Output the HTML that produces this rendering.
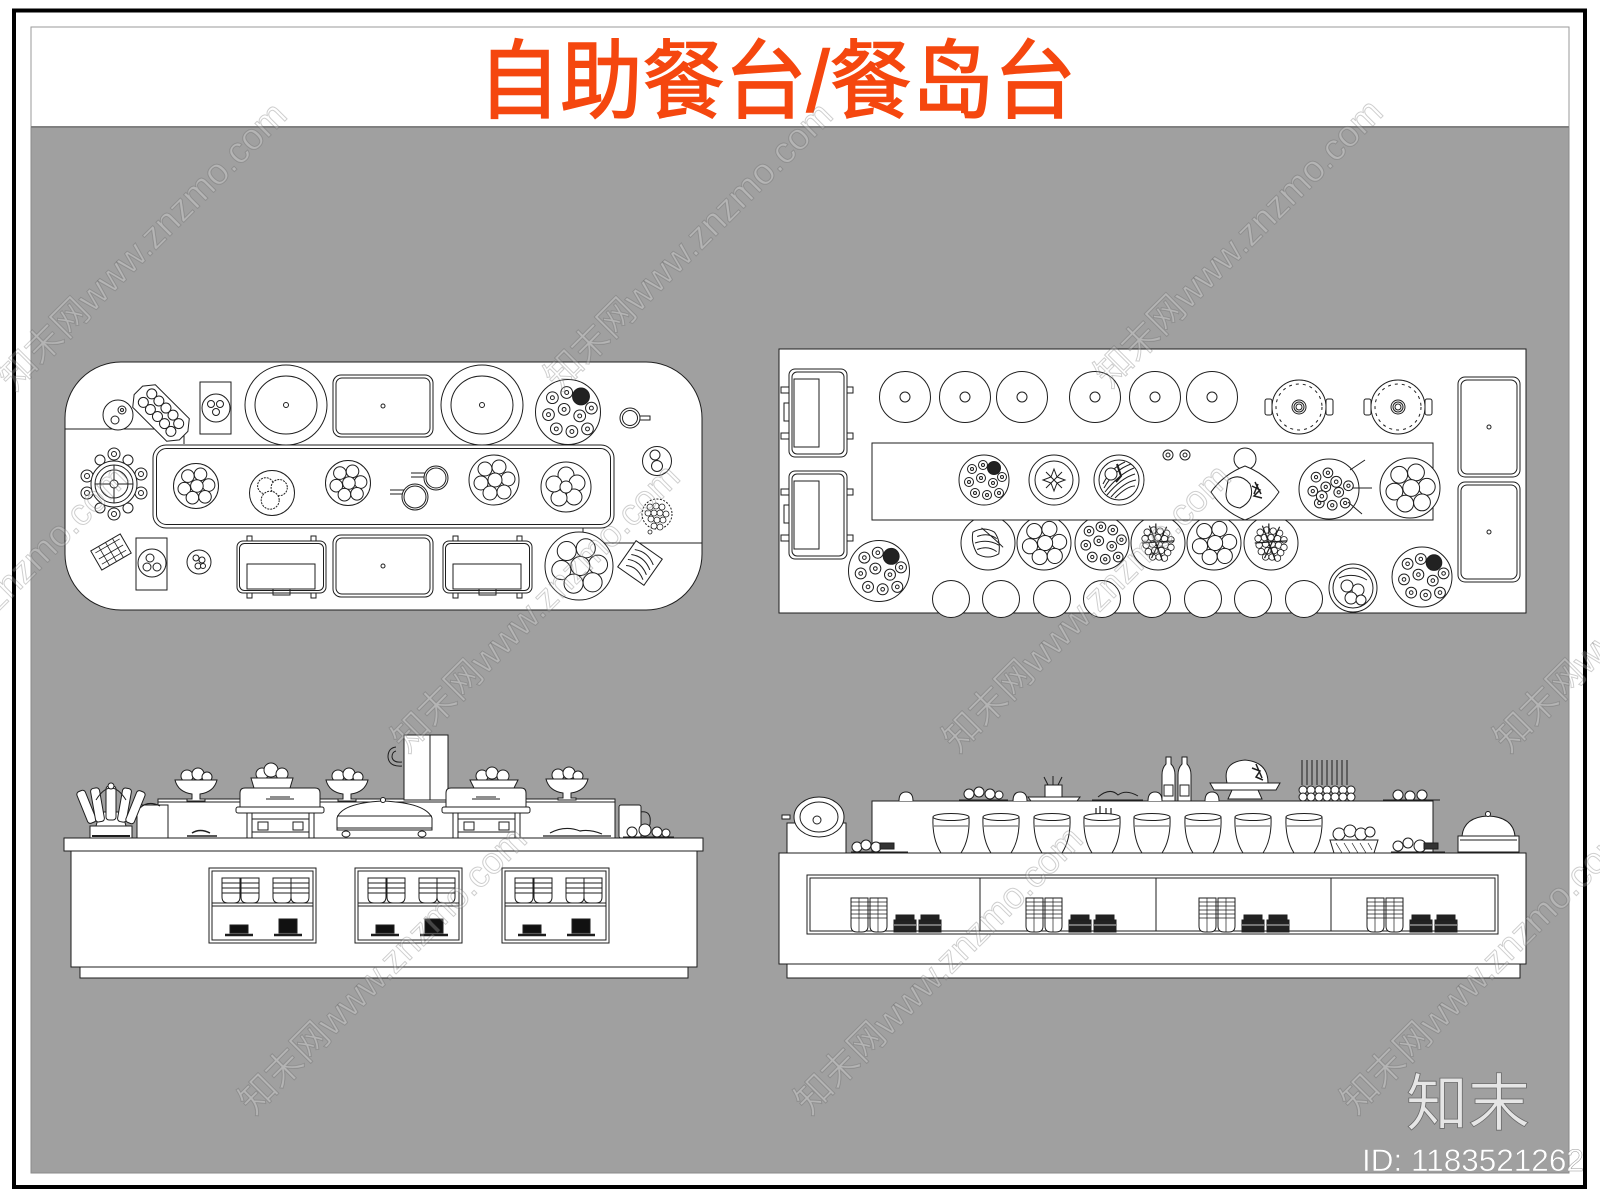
<!DOCTYPE html>
<html><head><meta charset="utf-8"><style>
html,body{margin:0;padding:0;background:#fff;}
svg{display:block}
svg *{vector-effect:non-scaling-stroke}
</style></head><body>
<svg width="1600" height="1200" viewBox="0 0 1600 1200" xmlns="http://www.w3.org/2000/svg">
<defs>
 <g id="rg"><circle r="4.5"/><circle r="1.5"/></g>
 <g id="rgs"><use href="#rg" x="-12" y="-11"/><use href="#rg" x="-1" y="-15"/><use href="#rg" x="-15" y="2"/><use href="#rg" x="-3" y="-2"/><use href="#rg" x="9" y="3"/><use href="#rg" x="-9" y="13"/><use href="#rg" x="3" y="15"/><use href="#rg" x="15" y="13"/><use href="#rg" x="18" y="-3"/></g>
 <g id="fr"><circle r="25"/><circle cx="-9" cy="-11" r="7"/><circle cx="5" cy="-13" r="7"/><circle cx="14" cy="-1" r="7"/><circle cx="1" cy="0" r="7"/><circle cx="-13" cy="3" r="7"/><circle cx="-4" cy="13" r="7"/><circle cx="10" cy="12" r="7"/></g>
 <g id="dn"><circle r="25"/><use href="#rgs"/><circle cx="10" cy="-12" r="6.5" fill="#222"/></g>
 <g id="dl"><circle r="25"/><use href="#rgs"/><use href="#rg" x="10" y="-12"/></g>
 <g id="gr"><circle r="25"/><g stroke-width="0.8"><circle cx="-10" cy="-10" r="3"/><circle cx="-4" cy="-12" r="3"/><circle cx="2" cy="-11" r="3"/><circle cx="8" cy="-9" r="3"/><circle cx="-12" cy="-4" r="3"/><circle cx="-6" cy="-5" r="3"/><circle cx="0" cy="-5" r="3"/><circle cx="6" cy="-4" r="3"/><circle cx="12" cy="-3" r="3"/><circle cx="-11" cy="2" r="3"/><circle cx="-5" cy="1" r="3"/><circle cx="1" cy="1" r="3"/><circle cx="7" cy="2" r="3"/><circle cx="12" cy="4" r="3"/><circle cx="-9" cy="8" r="3"/><circle cx="-3" cy="7" r="3"/><circle cx="3" cy="7" r="3"/><circle cx="9" cy="9" r="3"/><circle cx="-5" cy="13" r="3"/><circle cx="1" cy="13" r="3"/><circle cx="6" cy="14" r="3"/></g><path d="M-8 -16L4 16M8 -15L-6 14M-15 0L15 -2M-2 -18V-8" fill="none" stroke-width="1.2"/></g>
 <g id="lf"><circle r="25"/><path d="M-14 -10Q-4 -16 6 -10Q12 -2 10 10Q0 16 -10 10Q-16 0 -14 -10ZM-10 -6Q0 -10 8 -4M-12 0Q0 -4 10 2M-10 6Q0 2 8 8M-6 -14Q6 -4 14 4" fill="none"/></g>
 <g id="che"><path d="M4 19V5q0-5 5-5h70q5 0 5 5v14z"/><path d="M30 11h28M34 9h20" fill="none"/><rect x="0" y="19" width="88" height="6" rx="2"/><rect x="16" y="31" width="57" height="19"/><rect x="11" y="25" width="5" height="25"/><rect x="73" y="25" width="5" height="25"/><rect x="22" y="34" width="10" height="8"/><rect x="57" y="34" width="10" height="8"/><path d="M16 44H73" fill="none"/></g>
 <g id="chp"><rect x="0" y="3" width="89" height="52" rx="6"/><rect x="2.5" y="5.5" width="84" height="47" rx="5"/><rect x="10" y="26" width="68" height="25"/><rect x="10" y="-2" width="5" height="5"/><rect x="74" y="-2" width="5" height="5"/><rect x="10" y="55" width="5" height="5"/><rect x="74" y="55" width="5" height="5"/><path d="M36 51v6h17v-6" fill="none"/></g>
 <g id="chv"><rect x="-8" y="18" width="8" height="6"/><rect x="-8" y="64" width="8" height="6"/><rect x="58" y="18" width="6" height="6"/><rect x="58" y="64" width="6" height="6"/><path d="M0 34h-5v18h5" fill="none"/><rect x="0" y="0" width="58" height="88" rx="6"/><rect x="3" y="3" width="52" height="82" rx="5"/><rect x="5" y="10" width="25" height="68"/></g>
 <g id="pot"><rect x="-34" y="-8" width="7" height="16" rx="2"/><rect x="27" y="-8" width="7" height="16" rx="2"/><circle r="27"/><circle r="23" fill="none" stroke-dasharray="3 4"/><circle r="7"/><circle r="5"/><circle r="3"/></g>
 <g id="cs"><path d="M0 0H18V19Q18 25 12 25H6Q0 25 0 19Z"/><path d="M0 5H18M0 10H18M0 15H18" fill="none"/></g>
 <g id="win"><rect width="107" height="75"/><rect x="3" y="3" width="101" height="69"/><path d="M3 35H104M3 38H104" fill="none"/><use href="#cs" x="13" y="10"/><use href="#cs" x="32" y="10"/><use href="#cs" x="64" y="10"/><use href="#cs" x="82" y="10"/><rect x="21" y="57" width="18" height="8" fill="#111"/><rect x="70" y="51" width="18" height="14" fill="#111"/><path d="M16 67H44M65 67H93" fill="none" stroke-width="2.5"/></g>
 <g id="ri"><path d="M0 0H17V28Q17 34 11 34H6Q0 34 0 28Z"/><path d="M19 0H36V28Q36 34 30 34H25Q19 34 19 28Z"/><path d="M0 4H36M0 8H36M0 12H36M0 16H36M0 20H36M8 0V34M27 0V34" fill="none" stroke-width="0.7"/><path d="M43 22H65V34H43ZM45 17H63V22H45Z M68 22H90V34H68ZM70 17H88V22H70Z" fill="#222"/><path d="M43 27H65M68 27H90" stroke="#fff" fill="none" stroke-width="0.8"/></g>
 <g id="cup"><path d="M-18 0Q-19 22 -10 36H10Q19 22 18 0Z"/><ellipse cx="0" cy="0" rx="18" ry="3.5"/><path d="M-17 9H17" fill="none" stroke-width="0.7"/></g>
 <g id="pb"><circle cx="-9" cy="-4" r="6"/><circle cx="2" cy="-6" r="6"/><circle cx="11" cy="-3" r="5"/><path d="M-21 0H21Q18 12 4 14V19H9V21H-9V19H-4V14Q-18 12-21 0Z"/></g>
</defs>

<rect width="1600" height="1200" fill="#fff"/>
<rect x="14" y="10.5" width="1571" height="1176.5" fill="none" stroke="#000" stroke-width="4"/>
<rect x="31" y="127" width="1538" height="1046" fill="#a0a0a0" stroke="#8a8a8a"/>
<rect x="31" y="27" width="1538" height="100" fill="#fff" stroke="#9a9a9a"/>
<line x1="31" y1="127" x2="1569" y2="127" stroke="#808080" stroke-width="2"/>
<text x="478" y="111" font-family="'Liberation Sans','Noto Sans CJK SC',sans-serif" font-size="86" fill="#f5470f" stroke="#f5470f" stroke-width="1.5" textLength="598" lengthAdjust="spacingAndGlyphs">自助餐台/餐岛台</text>

<!-- LEFT PLAN -->
<g fill="#fff" stroke="#1e1e1e" stroke-width="1">
<rect x="65" y="362" width="637" height="248" rx="56"/>
<path d="M65 429H184V444M583 528V543H702" fill="none"/>
<circle cx="118" cy="415" r="15"/><circle cx="115" cy="420" r="4"/><circle cx="122" cy="410" r="4"/><circle cx="122" cy="410" r="1.5"/>
<g transform="translate(161,413) rotate(45)"><path d="M-32 -6L-24 -16H24L32 -6V6L24 16H-24L-32 6Z"/><circle cx="-20" cy="-7" r="5"/><circle cx="-10" cy="-7" r="5"/><circle cx="0" cy="-7" r="5"/><circle cx="10" cy="-7" r="5"/><circle cx="20" cy="-5" r="5"/><circle cx="-20" cy="5" r="5"/><circle cx="-10" cy="5" r="5"/><circle cx="0" cy="5" r="5"/><circle cx="10" cy="5" r="5"/><circle cx="20" cy="6" r="5"/></g>
<rect x="200" y="382" width="31" height="52"/><circle cx="216" cy="408" r="14"/><circle cx="211" cy="404" r="3.5"/><circle cx="220" cy="404" r="3.5"/><circle cx="216" cy="412" r="3.5"/>
<ellipse cx="286" cy="405" rx="41" ry="40"/><ellipse cx="286" cy="405" rx="31" ry="29"/><circle cx="286" cy="405" r="2.5"/>
<rect x="333" y="375" width="100" height="62" rx="8"/><rect x="336" y="378" width="94" height="56" rx="6"/><circle cx="383" cy="406" r="2"/>
<ellipse cx="482" cy="405" rx="41" ry="40"/><ellipse cx="482" cy="405" rx="31" ry="29"/><circle cx="482" cy="405" r="2.5"/>
<use href="#dn" transform="translate(568,412) scale(1.3)"/>
<rect x="639" y="416" width="11" height="4"/><circle cx="630" cy="418" r="10"/><circle cx="630" cy="418" r="7.5"/>
<circle cx="657" cy="461" r="14.5"/><circle cx="655" cy="455" r="5"/><circle cx="657" cy="466" r="5.5"/>
<circle cx="657" cy="514" r="15" fill="none" stroke-dasharray="2 1.5"/><g stroke-width="0.8"><circle cx="650" cy="507" r="3"/><circle cx="656" cy="506" r="3"/><circle cx="662" cy="507" r="3"/><circle cx="648" cy="513" r="3"/><circle cx="654" cy="513" r="3"/><circle cx="660" cy="513" r="3"/><circle cx="666" cy="514" r="3"/><circle cx="651" cy="519" r="3"/><circle cx="657" cy="520" r="3"/><circle cx="663" cy="520" r="3"/><circle cx="654" cy="526" r="3"/><circle cx="660" cy="527" r="3"/><circle cx="650" cy="532" r="2"/></g>
<g transform="translate(114,484)"><circle cx="0" cy="-30" r="6"/><circle cx="0" cy="-30" r="2.5"/><circle cx="0" cy="30" r="6"/><circle cx="0" cy="30" r="2.5"/><circle cx="-27" cy="-8" r="6"/><circle cx="-27" cy="-8" r="2.5"/><circle cx="-27" cy="9" r="6"/><circle cx="-27" cy="9" r="2.5"/><circle cx="27" cy="-10" r="6"/><circle cx="27" cy="-10" r="2.5"/><circle cx="27" cy="9" r="6"/><circle cx="27" cy="9" r="2.5"/><circle cx="-14" cy="-24" r="5"/><circle cx="14" cy="-24" r="5"/><circle cx="-14" cy="24" r="5"/><circle cx="14" cy="24" r="5"/><circle r="23"/><circle r="19"/><circle r="14"/><path d="M-19 0H19M0-19V19" fill="none"/><circle r="4"/></g>
<g transform="translate(111,552) rotate(-30)"><rect x="-17" y="-11" width="34" height="22"/><path d="M-14 -7H14M-14 0H14M-14 6H14M-8 -11V11M0 -11V11M8 -11V11" fill="none" stroke-width="0.8"/></g>
<rect x="136" y="538" width="31" height="52"/><circle cx="152" cy="563" r="14"/><circle cx="150" cy="558" r="4"/><circle cx="147" cy="567" r="4"/><circle cx="157" cy="567" r="4"/>
<circle cx="199" cy="562" r="12"/><circle cx="196" cy="558" r="3"/><circle cx="202" cy="560" r="3"/><circle cx="198" cy="566" r="3"/><circle cx="203" cy="566" r="2.5"/>
<use href="#chp" transform="translate(237,538)"/>
<rect x="333" y="535" width="100" height="62" rx="8"/><rect x="336" y="538" width="94" height="56" rx="6"/><circle cx="383" cy="566" r="2"/>
<use href="#chp" transform="translate(443,538)"/>
<use href="#fr" transform="translate(579,566) scale(1.36)"/>
<g transform="translate(640,563) rotate(35)"><rect x="-16" y="-16" width="32" height="32"/><path d="M-12 -8Q0 -14 12 -6M-12 -2Q0 -8 12 0M-12 4Q0 -2 12 6M-10 10Q0 4 12 12" fill="none"/></g>
<rect x="153" y="445" width="461" height="83" rx="13"/><rect x="156.5" y="448.5" width="454" height="76" rx="10"/>
<use href="#fr" transform="translate(196,486) scale(0.9)"/>
<g transform="translate(272,493) scale(0.9)"><circle r="25"/><circle cx="-7" cy="-8" r="9" stroke-dasharray="2 1"/><circle cx="8" cy="-6" r="9" stroke-dasharray="2 1"/><circle cx="-2" cy="8" r="10" stroke-dasharray="2 1"/></g>
<use href="#fr" transform="translate(348,483) scale(0.9)"/>
<path d="M411 473H425M411 477H425M390 490H404M390 494H404" fill="none"/>
<circle cx="436" cy="478" r="12"/><circle cx="436" cy="478" r="10"/>
<circle cx="415" cy="497" r="13"/><circle cx="415" cy="497" r="11"/>
<use href="#fr" transform="translate(494,480)"/>
<g transform="translate(566,487)"><circle r="25"/><circle cx="0" cy="-12" r="8"/><circle cx="11" cy="-4" r="8"/><circle cx="8" cy="10" r="8"/><circle cx="-7" cy="11" r="8"/><circle cx="-12" cy="-3" r="8"/><circle r="6"/></g>
</g>

<!-- RIGHT PLAN -->
<g fill="#fff" stroke="#1e1e1e" stroke-width="1">
<rect x="779" y="349" width="747" height="264"/>
<use href="#chv" transform="translate(789,369)"/>
<use href="#chv" transform="translate(789,471)"/>
<g><circle cx="905" cy="397" r="25.5"/><circle cx="905" cy="397" r="5"/><circle cx="965" cy="397" r="25.5"/><circle cx="965" cy="397" r="5"/><circle cx="1022" cy="397" r="25.5"/><circle cx="1022" cy="397" r="5"/><circle cx="1095" cy="397" r="25.5"/><circle cx="1095" cy="397" r="5"/><circle cx="1155" cy="397" r="25.5"/><circle cx="1155" cy="397" r="5"/><circle cx="1212" cy="397" r="25.5"/><circle cx="1212" cy="397" r="5"/></g>
<use href="#pot" transform="translate(1299,407)"/>
<use href="#pot" transform="translate(1398,407)"/>
<rect x="1458" y="377" width="62" height="100" rx="7"/><rect x="1461" y="380" width="56" height="94" rx="6"/><circle cx="1489" cy="427" r="2"/>
<rect x="1458" y="482" width="62" height="100" rx="7"/><rect x="1461" y="485" width="56" height="94" rx="6"/><circle cx="1489" cy="532" r="2"/>
<use href="#lf" transform="translate(988,543) scale(1.08)"/>
<use href="#fr" transform="translate(1044,543) scale(1.08)"/>
<use href="#dl" transform="translate(1102,543) scale(1.08)"/>
<use href="#gr" transform="translate(1158,543) scale(1.08)"/>
<use href="#fr" transform="translate(1214,543) scale(1.08)"/>
<use href="#gr" transform="translate(1271,543) scale(1.08)"/>
<rect x="872" y="443" width="561" height="77"/>
<use href="#dn" transform="translate(984,480)"/>
<g transform="translate(1054,480)"><circle r="25"/><circle r="19"/><path d="M0 -11L3 -3L11 0L3 3L0 11L-3 3L-11 0L-3 -3ZM-8 -8L0 0L8 8M-8 8L8 -8" fill="none"/></g>
<g transform="translate(1119,480)"><circle r="25"/><circle r="20"/><path d="M-15 8Q-5 -10 12 -16M-14 12Q0 -6 15 -12M-12 15Q2 -2 16 -6M-8 17Q5 2 17 0M-4 18Q8 6 16 6M-16 4Q-8 -12 6 -18" fill="none"/><circle cx="-8" cy="-6" r="6"/><path d="M-2 -16L2 -4L-3 2" fill="none" stroke-width="2"/></g>
<circle cx="1168" cy="455" r="5"/><circle cx="1168" cy="455" r="2"/><circle cx="1185" cy="455" r="5"/><circle cx="1185" cy="455" r="2"/>
<circle cx="1245" cy="459" r="11"/>
<path d="M1245 466Q1266 474 1279 492Q1266 512 1245 520Q1224 512 1211 492Q1224 474 1245 466Z"/>
<path d="M1228 480Q1240 472 1250 484Q1256 500 1240 508Q1226 506 1226 494Z" fill="none"/>
<path d="M1252 486l8 4l-6 6l8 2M1255 482l6 12M1258 484l-4 10" fill="none" stroke-width="1.5"/>
<g transform="translate(1329,489) scale(1.2)"><circle r="25"/><use href="#rgs" transform="scale(0.9)"/><use href="#rg" x="-6" y="6"/><use href="#rg" x="6" y="-6"/></g>
<path d="M1350 470L1365 460M1352 488H1372M1348 502L1362 514" fill="none"/>
<use href="#fr" transform="translate(1410,488) scale(1.2)"/>
<g><circle cx="951" cy="599" r="18.5"/><circle cx="1001" cy="599" r="18.5"/><circle cx="1052" cy="599" r="18.5"/><circle cx="1102" cy="599" r="18.5"/><circle cx="1152" cy="599" r="18.5"/><circle cx="1203" cy="599" r="18.5"/><circle cx="1253" cy="599" r="18.5"/><circle cx="1304" cy="599" r="18.5"/></g>
<use href="#dn" transform="translate(879,571) scale(1.22)"/>
<g transform="translate(1353,588)"><circle r="24"/><circle r="20"/><path d="M-14 -10Q0 -16 14 -8" fill="none"/><circle cx="-6" cy="-2" r="6"/><circle cx="5" cy="2" r="6"/><circle cx="-2" cy="10" r="6"/><circle cx="8" cy="12" r="5"/></g>
<use href="#dn" transform="translate(1422,577) scale(1.2)"/>
</g>

<!-- LEFT ELEVATION -->
<g fill="#fff" stroke="#1e1e1e" stroke-width="1">
<rect x="158" y="799" width="457" height="39"/><path d="M158 802H615" fill="none"/>
<rect x="80" y="967" width="608" height="11"/>
<rect x="71" y="851" width="626" height="116"/>
<rect x="64" y="838" width="639" height="13"/>
<use href="#win" transform="translate(209,868)"/>
<use href="#win" transform="translate(355,868)"/>
<use href="#win" transform="translate(502,868)"/>
<rect x="137" y="805" width="31" height="33"/>
<g><rect x="90" y="826" width="42" height="12"/><path d="M96 826L100 812H122L126 826Z"/>
<rect x="82" y="790" width="9" height="34" rx="3" transform="rotate(-22 86 807)"/>
<rect x="93" y="788" width="9" height="34" rx="3" transform="rotate(-10 97 805)"/>
<rect x="106" y="786" width="10" height="34" rx="3"/>
<rect x="120" y="788" width="9" height="34" rx="3" transform="rotate(10 124 805)"/>
<rect x="131" y="790" width="9" height="34" rx="3" transform="rotate(22 135 807)"/>
<path d="M96 800Q111 776 126 800" fill="none"/><circle cx="111" cy="786" r="3"/>
<path d="M92 836H130" fill="none" stroke-width="2"/></g>
<path d="M140 808q8-8 20-2" fill="none"/>
<path d="M187 836h30M192 833q8-5 18 0" fill="none" stroke-width="1.5"/>
<use href="#pb" transform="translate(196,780)"/>
<use href="#pb" transform="translate(347,780)"/>
<use href="#pb" transform="translate(567,779)"/>
<path d="M396 747Q388 748 388 757Q389 767 402 766" fill="none"/><path d="M396 751Q392 752 392 757Q393 763 402 762" fill="none"/>
<rect x="404" y="735" width="44" height="65"/><path d="M430 735V800" fill="none"/>
<use href="#che" transform="translate(236,788)"/>
<use href="#che" transform="translate(442,788)"/>
<g><circle cx="262" cy="774" r="6"/><circle cx="271" cy="770" r="7"/><circle cx="282" cy="774" r="6"/><path d="M251 778H293L290 788H254Z"/></g>
<g><circle cx="482" cy="776" r="6"/><circle cx="492" cy="773" r="6"/><circle cx="503" cy="776" r="6"/><path d="M470 780H518L514 788H474Z"/></g>
<path d="M337 830V818Q342 803 383 801Q426 803 432 818V830Z"/><path d="M337 816H432M337 828H432" fill="none"/><circle cx="383" cy="800" r="2.5"/><ellipse cx="346" cy="834" rx="4" ry="3"/><ellipse cx="422" cy="834" rx="4" ry="3"/>
<path d="M543 836H611M550 833q15-8 30-2q10-2 22 3" fill="none" stroke-width="1.2"/>
<path d="M640 812q12-2 10 12q-2 8-10 8" fill="none"/><rect x="619" y="805" width="22" height="33" rx="2"/>
<g><circle cx="632" cy="832" r="5"/><circle cx="645" cy="830" r="6"/><circle cx="657" cy="832" r="5"/><circle cx="666" cy="833" r="4"/><path d="M623 837H674" fill="none"/></g>
</g>

<!-- RIGHT ELEVATION -->
<g fill="#fff" stroke="#1e1e1e" stroke-width="1">
<rect x="787" y="964" width="733" height="14"/>
<rect x="779" y="853" width="747" height="111"/>
<rect x="807" y="875" width="691" height="59"/><rect x="810" y="878" width="685" height="53"/>
<path d="M980 878V931M1156 878V931M1331 878V931" fill="none"/>
<use href="#ri" transform="translate(851,898)"/>
<use href="#ri" transform="translate(1026,898)"/>
<use href="#ri" transform="translate(1199,898)"/>
<use href="#ri" transform="translate(1367,898)"/>
<rect x="872" y="801" width="561" height="52"/>
<path d="M1096 808V820M1100 806V820M1106 808V820M1111 808V820" fill="none" stroke-width="1.2"/>
<use href="#cup" transform="translate(951,817)"/>
<use href="#cup" transform="translate(1001,817)"/>
<use href="#cup" transform="translate(1052,817)"/>
<use href="#cup" transform="translate(1102,817)"/>
<use href="#cup" transform="translate(1152,817)"/>
<use href="#cup" transform="translate(1203,817)"/>
<use href="#cup" transform="translate(1253,817)"/>
<use href="#cup" transform="translate(1304,817)"/>
<path d="M899 801q0-9 7-9q7 0 7 9M1013 801q0-9 7-9q7 0 7 9M1148 801q0-9 7-9q7 0 7 9M1205 801q0-9 7-9q7 0 7 9"/>
<g><circle cx="969" cy="794" r="5"/><circle cx="979" cy="792" r="5"/><circle cx="990" cy="794" r="5"/><circle cx="999" cy="795" r="4"/><path d="M959 800H1008" fill="none"/></g>
<path d="M1028 797H1080L1077 801H1031Z"/><rect x="1045" y="785" width="17" height="12"/><path d="M1048 785l-4-8M1053 785v-9M1058 785l4-8" fill="none"/>
<path d="M1092 800H1143M1098 797q12-10 20-2q8-6 20 1" fill="none"/>
<path d="M1162 801V775Q1162 768 1166 764V757H1171V764Q1175 768 1175 775V801Z"/><rect x="1164" y="785" width="9" height="11"/>
<path d="M1178 801V775Q1178 768 1182 764V757H1187V764Q1191 768 1191 775V801Z"/><rect x="1180" y="785" width="9" height="11"/>
<path d="M1227 783Q1222 762 1245 760Q1268 762 1268 783Z"/><path d="M1252 768l8 3l-4 6l7 3M1256 764l6 14" fill="none" stroke-width="1.5"/>
<path d="M1210 783H1280L1276 790H1214Z"/><path d="M1232 790H1258L1262 799H1228Z"/>
<path d="M1302 785V760M1307 785V760M1312 785V760M1317 785V760M1322 785V760M1327 785V760M1332 785V760M1337 785V760M1342 785V760M1347 785V760" fill="none"/>
<g><circle cx="1303" cy="790" r="4"/><circle cx="1311" cy="790" r="4"/><circle cx="1319" cy="790" r="4"/><circle cx="1327" cy="790" r="4"/><circle cx="1335" cy="790" r="4"/><circle cx="1343" cy="790" r="4"/><circle cx="1351" cy="790" r="4"/><circle cx="1303" cy="797" r="4"/><circle cx="1311" cy="797" r="4"/><circle cx="1319" cy="797" r="4"/><circle cx="1327" cy="797" r="4"/><circle cx="1335" cy="797" r="4"/><circle cx="1343" cy="797" r="4"/><circle cx="1351" cy="797" r="4"/></g>
<g><circle cx="1398" cy="795" r="5"/><circle cx="1410" cy="796" r="5"/><circle cx="1422" cy="795" r="5"/><path d="M1383 800H1440" fill="none"/></g>
<rect x="787" y="823" width="59" height="30"/><ellipse cx="819" cy="817" rx="25" ry="20"/><ellipse cx="819" cy="817" rx="19" ry="15"/><circle cx="817" cy="820" r="4"/><rect x="782" y="815" width="8" height="4"/>
<g><circle cx="857" cy="847" r="5"/><circle cx="866" cy="845" r="5"/><circle cx="876" cy="847" r="5"/><rect x="880" y="843" width="14" height="6" fill="#333"/><path d="M851 852H908" fill="none"/></g>
<g><circle cx="1339" cy="834" r="6"/><circle cx="1350" cy="831" r="6"/><circle cx="1361" cy="834" r="6"/><circle cx="1370" cy="832" r="5"/><path d="M1330 840H1378L1374 853H1334Z"/><path d="M1336 843L1342 853M1344 843L1350 853M1352 843L1358 853M1360 843L1366 853M1368 843L1372 850" fill="none" stroke-width="0.7"/></g>
<g><circle cx="1398" cy="846" r="5"/><circle cx="1408" cy="843" r="5"/><circle cx="1420" cy="846" r="6"/><rect x="1424" y="843" width="14" height="6" fill="#333"/><path d="M1391 852H1445" fill="none"/></g>
<rect x="1458" y="836" width="61" height="16"/><path d="M1462 836Q1464 817 1488 816Q1513 817 1515 836Z"/><circle cx="1488" cy="814" r="2.5"/><path d="M1460 840H1517" fill="none"/>
</g>

<!-- Watermarks -->
<g font-family="'Liberation Sans','Noto Sans CJK SC',sans-serif" font-size="37" fill="rgba(255,255,255,0.22)" stroke="rgba(80,80,80,0.28)" stroke-width="1">
<text transform="translate(14,392) rotate(-45)">知末网www.znzmo.com</text>
<text transform="translate(560,392) rotate(-45)">知末网www.znzmo.com</text>
<text transform="translate(1110,389) rotate(-45)">知末网www.znzmo.com</text>
<text transform="translate(-144,754) rotate(-45)">知末网www.znzmo.com</text>
<text transform="translate(407,754) rotate(-45)">知末网www.znzmo.com</text>
<text transform="translate(958,754) rotate(-45)">知末网www.znzmo.com</text>
<text transform="translate(1509,754) rotate(-45)">知末网www.znzmo.com</text>
<text transform="translate(254,1116) rotate(-45)">知末网www.znzmo.com</text>
<text transform="translate(810,1116) rotate(-45)">知末网www.znzmo.com</text>
<text transform="translate(1356,1116) rotate(-45)">知末网www.znzmo.com</text>
</g>

<text x="1406" y="1125" font-family="'Liberation Sans','Noto Sans CJK SC',sans-serif" font-size="62" fill="#e6e6e6" stroke="#6a6a6a" stroke-width="0.8">知末</text>
<text x="1362" y="1171" font-family="'Liberation Sans',sans-serif" font-size="31.5" fill="#fff" stroke="#9a9a9a" stroke-width="0.5">ID: 1183521262</text>
</svg>
</body></html>
